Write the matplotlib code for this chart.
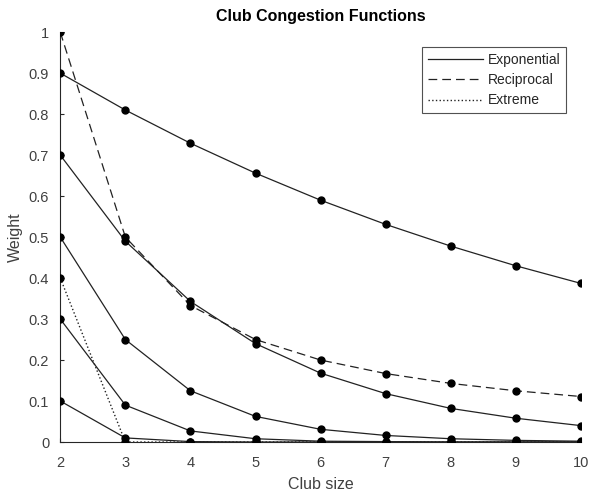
import matplotlib.pyplot as plt
import numpy as np

plt.rcParams['font.family'] = ['Liberation Sans', 'DejaVu Sans']

# club sizes
club_size = [2, 3, 4, 5, 6, 7, 8, 9, 10]

# exponential congestion curves (one per starting weight)
exp_09 = [0.9, 0.81, 0.729, 0.656, 0.59, 0.531, 0.478, 0.43, 0.387]
exp_07 = [0.7, 0.49, 0.343, 0.24, 0.168, 0.118, 0.082, 0.058, 0.04]
exp_05 = [0.5, 0.25, 0.125, 0.0625, 0.031, 0.016, 0.008, 0.004, 0.002]
exp_03 = [0.3, 0.09, 0.027, 0.008, 0.002, 0.001, 0.0, 0.0, 0.0]
exp_01 = [0.1, 0.01, 0.001, 0.0, 0.0, 0.0, 0.0, 0.0, 0.0]
exponential = [exp_09, exp_07, exp_05, exp_03, exp_01]

reciprocal = [1.0, 0.5, 0.333, 0.25, 0.2, 0.167, 0.143, 0.125, 0.111]
extreme = [0.4, 0.0, 0.0, 0.0, 0.0, 0.0, 0.0, 0.0, 0.0]

yticks = [0, 0.1, 0.2, 0.3, 0.4, 0.5, 0.6, 0.7, 0.8, 0.9, 1]

fig = plt.figure(figsize=(5.91, 4.92), dpi=100)
ax = fig.add_axes([0.102, 0.1016, 0.881, 0.833])

lc = '#222222'
for i, ys in enumerate(exponential):
    ax.plot(club_size, ys, '-', color=lc, lw=0.9,
            label='Exponential' if i == 0 else None)
ax.plot(club_size, reciprocal, '--', color=lc, lw=0.9, dashes=(7, 4), label='Reciprocal')
ax.plot(club_size, extreme, ':', color=lc, lw=1.0, label='Extreme')

# markers at integer sizes
for ys in exponential + [reciprocal, extreme]:
    ax.plot(club_size, ys, 'o', color='black', ms=5, zorder=3)

ax.set_xlim(2, 10)
ax.set_ylim(0, 1)
ax.set_xticks(club_size)
ax.set_yticks(yticks)
ax.set_yticklabels([('%g' % v) for v in yticks])
ax.spines['top'].set_visible(False)
ax.spines['right'].set_visible(False)
for s in ['left', 'bottom']:
    ax.spines[s].set_color('#262626')
    ax.spines[s].set_linewidth(0.8)
ax.tick_params(direction='in', length=3, colors='#262626', labelsize=10.5)
ax.tick_params(axis='x', pad=10)
ax.tick_params(axis='y', pad=8)
for lab in ax.get_xticklabels() + ax.get_yticklabels():
    lab.set_color('#404040')

ax.set_xlabel('Club size', fontsize=11.5, color='#404040', labelpad=5)
ax.set_ylabel('Weight', fontsize=11.5, color='#404040', labelpad=4)
ax.set_title('Club Congestion Functions', fontsize=11.5, fontweight='bold', color='black', pad=8)

leg = ax.legend(loc='upper right', bbox_to_anchor=(0.971, 0.963), fontsize=10,
                frameon=True, fancybox=False, edgecolor='#262626',
                handlelength=4.0, borderpad=0.4, labelspacing=0.45, handletextpad=0.3,
                borderaxespad=0)
leg.get_frame().set_linewidth(0.8)
for t in leg.get_texts():
    t.set_color('#262626')

fig.savefig('out.png', dpi=100)
